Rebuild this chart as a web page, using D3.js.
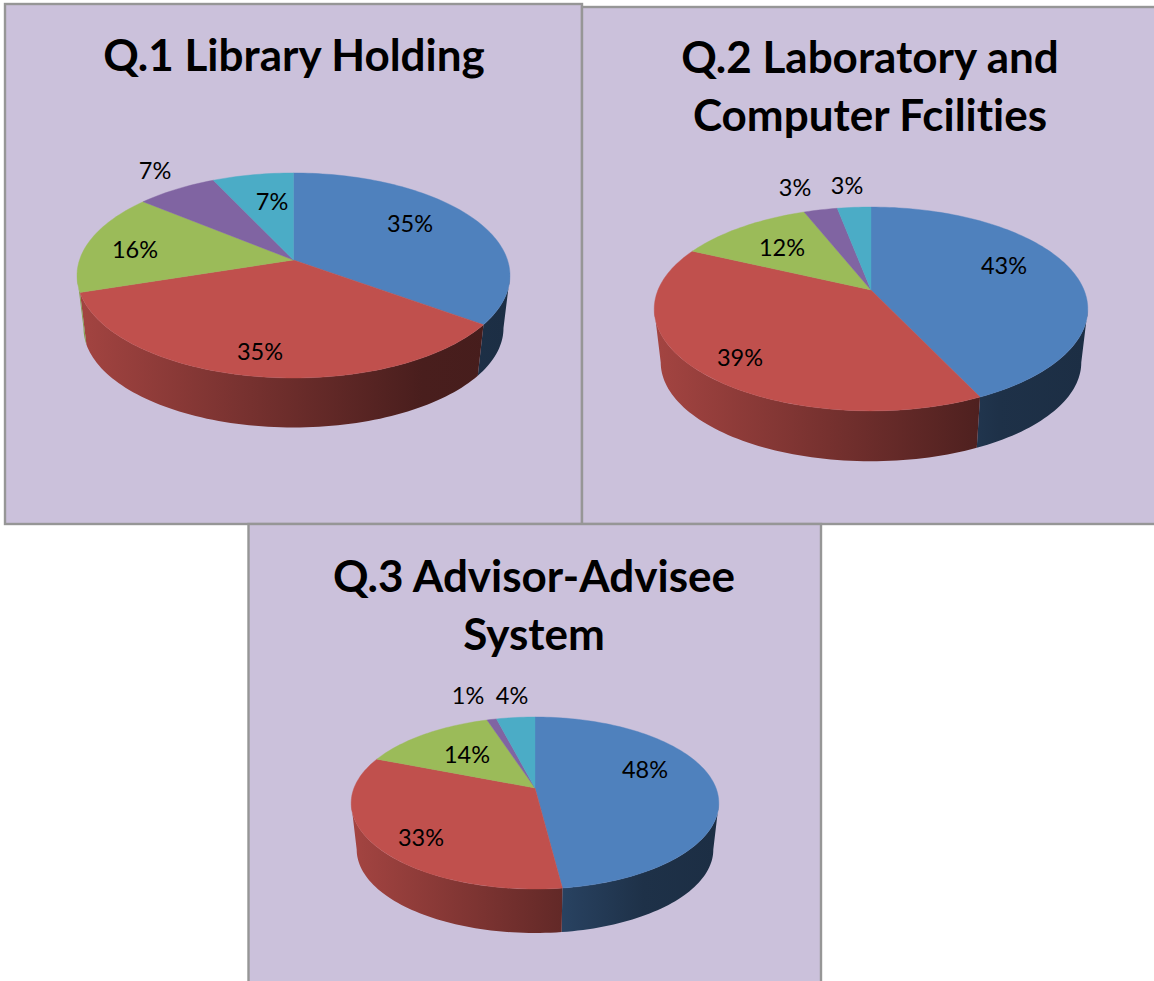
<!DOCTYPE html>
<html>
<head>
<meta charset="utf-8">
<style>
  html, body { margin: 0; padding: 0; background: #fff; overflow: hidden; }
  text { font-family: Lato, "Open Sans", sans-serif; fill: #000; font-variant-ligatures: none; }
</style>
<script src="https://cdn.jsdelivr.net/npm/d3@7/dist/d3.min.js"></script>
</head>
<body>
<div id="chart"></div>
<script>
// -------- data --------
const q1Values = [35, 35, 16, 7, 7];
const q2Values = [43, 39, 12, 3, 3];
const q3Values = [48, 33, 14, 1, 4];
const q1Title = ["Q.1 Library Holding"];
const q2Title = ["Q.2 Laboratory and", "Computer Fcilities"];
const q3Title = ["Q.3 Advisor-Advisee", "System"];

// -------- colours --------
const sliceColors = ["#4f81bd", "#c0504d", "#9bbb59", "#8064a2", "#4bacc6"];
const panelFill = "#cbc1db";
const panelStroke = "#969696";

// -------- layout --------
// cx/cy = pie apex, R/H/p = perspective of the top disc, depth = drop to the lower rim
const panels = [
  { id: "q1", values: q1Values, title: q1Title, box: [5, 4, 577, 520], titleX: 294, titleY: [71],
    cx: 293.5, cy: 260, R: 214, H: 100.2, p: 0.151, depth: 53, shrink: 0.97,
    labels: [[410, 224], [260, 352], [135, 250], [155, 171], [272, 202]] },
  { id: "q2", values: q2Values, title: q2Title, box: [582, 7, 590, 517], titleX: 870, titleY: [73, 131],
    cx: 871, cy: 290, R: 213, H: 98.4, p: 0.186, depth: 54, shrink: 0.97,
    labels: [[1004, 266], [740, 358], [782, 248], [795, 188], [847, 186]] },
  { id: "q3", values: q3Values, title: q3Title, box: [248.5, 524, 572.5, 470], titleX: 534, titleY: [592, 650],
    cx: 535, cy: 788, R: 181, H: 83.4, p: 0.1745, depth: 47, shrink: 0.97,
    labels: [[645, 770], [421, 838], [467, 755], [468, 696], [512, 696]] }
];

const width = 1154, height = 981;

const svg = d3.select("#chart").append("svg")
  .attr("width", width)
  .attr("height", height)
  .style("display", "block");

const defs = svg.append("defs");
const pie = d3.pie().sort(null);
const line = d3.line();

// ring point for angle a (clockwise from 12 o'clock), seen through the perspective
function ringPoint(c, a, lower) {
  const u = Math.sin(a), v = -Math.cos(a);
  const w = 1 - c.p * v;
  const k = lower ? c.shrink : 1;
  return [
    c.cx + k * c.R * u / w,
    c.cy + (lower ? c.depth : 0) + k * c.H * v / w
  ];
}

function arcAngles(a0, a1) {
  const n = Math.max(2, Math.ceil((a1 - a0) / (Math.PI / 120)));
  return d3.range(n + 1).map(i => a0 + (a1 - a0) * i / n);
}

panels.forEach(c => {
  const g = svg.append("g").attr("class", c.id);

  g.append("rect")
    .attr("x", c.box[0]).attr("y", c.box[1])
    .attr("width", c.box[2]).attr("height", c.box[3])
    .attr("fill", panelFill)
    .attr("stroke", panelStroke)
    .attr("stroke-width", 2.4);

  g.selectAll("text.title")
    .data(c.title)
    .enter().append("text")
    .attr("class", "title")
    .attr("x", c.titleX)
    .attr("y", (d, i) => c.titleY[i])
    .attr("text-anchor", "middle")
    .style("font-size", "44px")
    .style("font-weight", "700")
    .text(d => d);

  const arcs = pie(c.values);

  // shaded side, only where the rim faces the viewer
  const sideFrom = Math.acos(-c.p);
  const sideTo = 2 * Math.PI - sideFrom;
  const xShade = d3.scaleLinear()
    .domain([0, 0.8, 1])
    .range([0.85, 0.38, 0.36]);

  arcs.forEach((d, i) => {
    const a0 = Math.max(d.startAngle, sideFrom);
    const a1 = Math.min(d.endAngle, sideTo);
    if (a1 <= a0) return;

    const gid = c.id + "-side-" + i;
    const grad = defs.append("linearGradient")
      .attr("id", gid)
      .attr("gradientUnits", "userSpaceOnUse")
      .attr("x1", c.cx - c.R).attr("x2", c.cx + c.R)
      .attr("y1", 0).attr("y2", 0);
    xShade.domain().forEach(t => {
      const base = d3.rgb(sliceColors[i]);
      const s = xShade(t);
      grad.append("stop")
        .attr("offset", t)
        .attr("stop-color", d3.rgb(base.r * s, base.g * s, base.b * s));
    });

    const angles = arcAngles(a0, a1);
    const pts = angles.map(a => ringPoint(c, a, false))
      .concat(angles.slice().reverse().map(a => ringPoint(c, a, true)));
    g.append("path")
      .attr("d", line(pts) + "Z")
      .attr("fill", `url(#${gid})`);
  });

  // top disc
  arcs.forEach((d, i) => {
    const pts = [[c.cx, c.cy]].concat(arcAngles(d.startAngle, d.endAngle).map(a => ringPoint(c, a, false)));
    g.append("path")
      .attr("d", line(pts) + "Z")
      .attr("fill", sliceColors[i])
      .attr("stroke", sliceColors[i])
      .attr("stroke-width", 0.4);
  });

  // data labels
  g.selectAll("text.lbl")
    .data(c.values)
    .enter().append("text")
    .attr("class", "lbl")
    .attr("x", (d, i) => c.labels[i][0])
    .attr("y", (d, i) => c.labels[i][1])
    .attr("dy", "0.36em")
    .attr("text-anchor", "middle")
    .style("font-size", "23.5px")
    .text(d => d + "%");
});
</script>
</body>
</html>
